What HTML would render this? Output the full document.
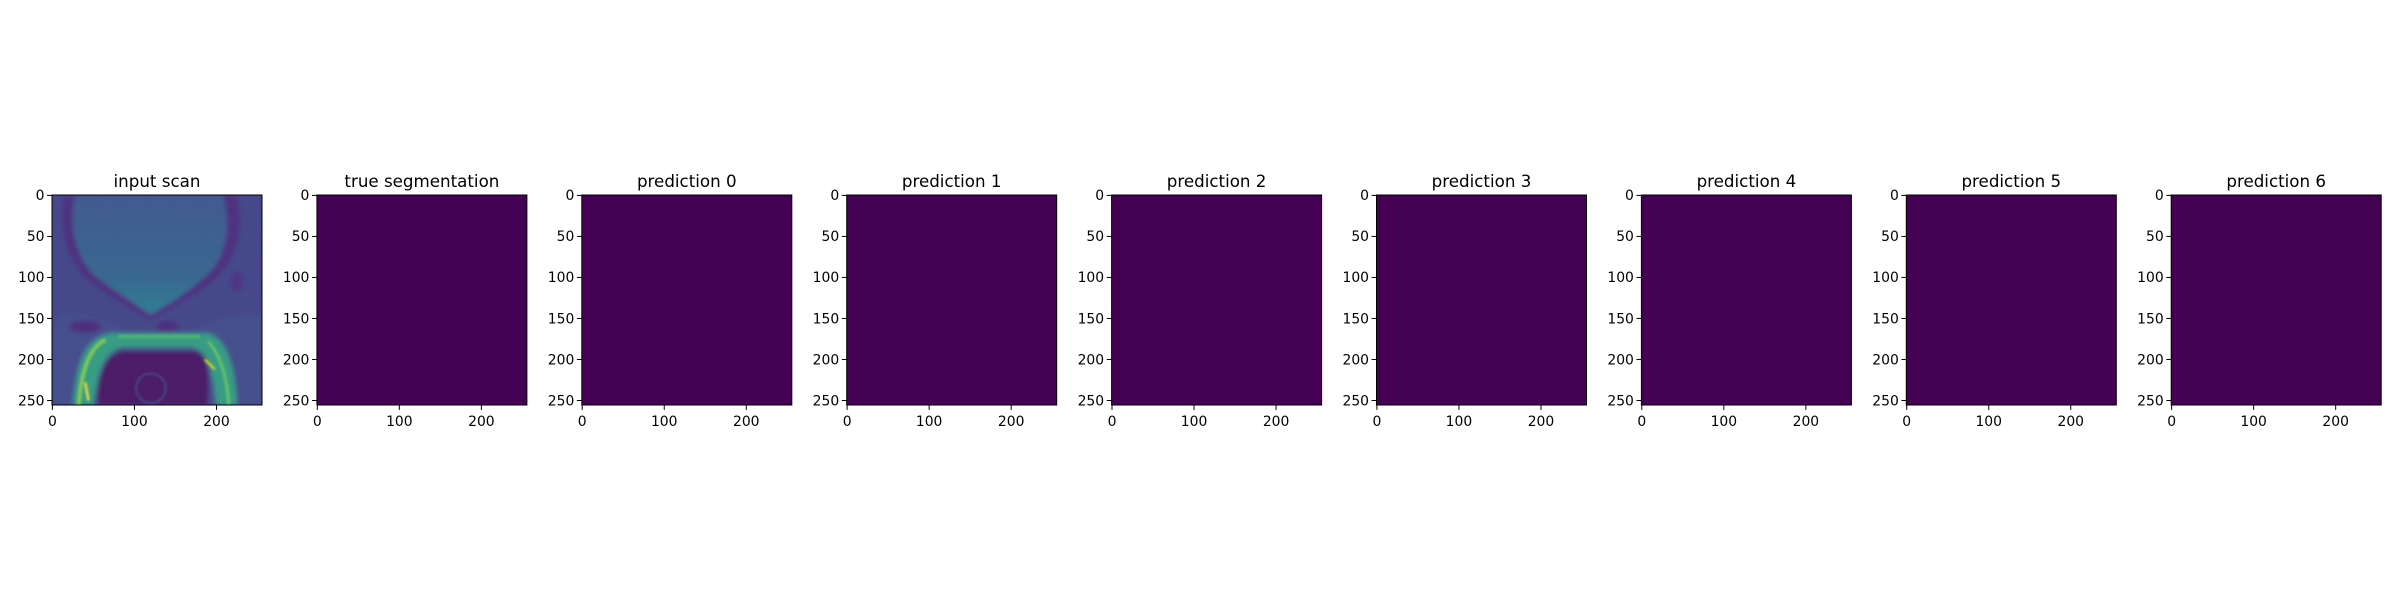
<!DOCTYPE html>
<html><head><meta charset="utf-8">
<style>
html,body{margin:0;padding:0;background:#fff;}
svg text{font-family:"DejaVu Sans","Liberation Sans",sans-serif;fill:#000;}
</style></head>
<body>
<svg id="fig" width="2400" height="600" viewBox="0 0 2400 600" xmlns="http://www.w3.org/2000/svg">
<defs>
<filter id="blur" x="-10%" y="-10%" width="120%" height="120%"><feGaussianBlur stdDeviation="2.5"/></filter>
<filter id="blur2" x="-10%" y="-10%" width="120%" height="120%"><feGaussianBlur stdDeviation="1.2"/></filter>
<filter id="noise" x="0" y="0" width="100%" height="100%">
<feTurbulence type="fractalNoise" baseFrequency="0.8" numOctaves="2" seed="3" result="t"/>
<feColorMatrix in="t" type="matrix" values="0 0 0 0 0.27  0 0 0 0 0.1  0 0 0 0 0.45  0 0 0 0.3 -0.05"/>
</filter>
<linearGradient id="bladder" x1="0" y1="0" x2="0" y2="1">
<stop offset="0" stop-color="#3a5a8c"/><stop offset="0.7" stop-color="#2f6a8d"/><stop offset="1" stop-color="#25858e"/>
</linearGradient>
<clipPath id="clipImg"><rect x="-0.5" y="-0.5" width="256" height="256"/></clipPath>
</defs>
<g id="panels"></g>
</svg>
<script>
const titles = ["input scan","true segmentation","prediction 0","prediction 1","prediction 2","prediction 3","prediction 4","prediction 5","prediction 6"];
const tickValues = [0,50,100,150,200,250];
const xTickValues = [0,100,200];
const segValues = [0,0,0,0,0,0,0,0]; // uniform mask value per segmentation panel
const imgSize = 256;

const NS = "http://www.w3.org/2000/svg";
const root = document.getElementById('panels');
const left0 = 52, step = 264.9, W = 210, top0 = 195, H = 210;
function mk(tag, attrs, parent){const e=document.createElementNS(NS,tag);for(const k in attrs)e.setAttribute(k,attrs[k]);parent.appendChild(e);return e;}
function viridis(v){return v<=0?'#440154':'#fde725';}

titles.forEach((t,i)=>{
  const L = left0 + i*step;
  const sx = v => L + (v+0.5)/imgSize*W;
  const sy = v => top0 + (v+0.5)/imgSize*H;
  const g = mk('g',{},root);
  
  
  const img = mk('g',{transform:`translate(${L},${top0}) scale(${W/imgSize}) translate(0.5,0.5)`},g);
  
  
  if(i===0){
    img.innerHTML = `<g clip-path="url(#clipImg)">
      <rect x="-0.5" y="-0.5" width="256" height="256" fill="#3e4787"/>
      <g filter="url(#blur)">
        <path d="M5,150 C20,140 60,150 90,165 L170,165 C200,150 240,140 256,150 L256,256 L0,256 Z" fill="#3d5089"/>
        <path d="M15,0 C5,40 20,80 40,100 C70,125 100,140 120,152 C140,140 170,125 195,105 C225,80 235,40 225,0 Z" fill="#462f7c"/>
        <path d="M28,0 C18,40 32,80 52,98 C78,118 105,135 120,145 C138,135 165,118 187,98 C212,75 218,40 208,0 Z" fill="url(#bladder)"/>
        <path d="M25,256 C30,200 40,175 70,168 L190,168 C210,175 222,200 225,256 L200,256 C195,210 190,190 170,185 L85,185 C65,190 55,210 50,256 Z" fill="#2fa47f"/>
        <path d="M85,190 L175,190 C190,195 192,215 190,256 L55,256 C55,215 65,195 85,190 Z" fill="#45185f"/>
        <ellipse cx="140" cy="160" rx="14" ry="7" fill="#472b79"/>
        <ellipse cx="40" cy="160" rx="20" ry="8" fill="#472b79"/>
        <ellipse cx="225" cy="105" rx="8" ry="12" fill="#46307e"/>
      </g>
      <g filter="url(#blur2)">
        <path d="M32,256 C35,215 45,185 65,176" stroke="#7ad151" stroke-width="5" fill="none"/>
        <path d="M215,256 C213,220 205,195 190,178" stroke="#5ec962" stroke-width="4" fill="none"/>
        <path d="M80,172 L180,172" stroke="#4ac16d" stroke-width="4" fill="none"/>
        <path d="M40,228 L44,250" stroke="#fde725" stroke-width="3" fill="none"/>
        <path d="M186,200 L198,212" stroke="#d8e219" stroke-width="3" fill="none"/>
        <circle cx="120" cy="235" r="18" fill="none" stroke="#3b4f8a" stroke-width="2"/>
      </g>
      <rect x="-0.5" y="-0.5" width="256" height="256" filter="url(#noise)"/>
    </g>`;
  } else {
    const c = mk('rect',{x:-0.5,y:-0.5,width:imgSize,height:imgSize,fill:viridis(segValues[i-1])},img);
    
    
  }
  const fr = mk('rect',{x:L,y:top0,width:W,height:H,fill:'none',stroke:'#000','stroke-width':1},g);
  
  
  const tt = mk('text',{x:L+W/2,y:top0-8,'text-anchor':'middle','font-size':16.7},g);
  tt.textContent = t;
  
  
  tickValues.forEach(v=>{
    const y = sy(v);
    mk('line',{x1:L-4.9,x2:L,y1:y,y2:y,stroke:'#000','stroke-width':1},g);
    const lb = mk('text',{x:L-7.5,y:y+4.8,'text-anchor':'end','font-size':13.9},g);
    lb.textContent = v;
    
    
  });
  xTickValues.forEach(v=>{
    const x = sx(v);
    mk('line',{x1:x,x2:x,y1:top0+H,y2:top0+H+4.9,stroke:'#000','stroke-width':1},g);
    const lb = mk('text',{x:x,y:top0+H+21,'text-anchor':'middle','font-size':13.9},g);
    lb.textContent = v;
    
    
  });
});
</script>
</body></html>
